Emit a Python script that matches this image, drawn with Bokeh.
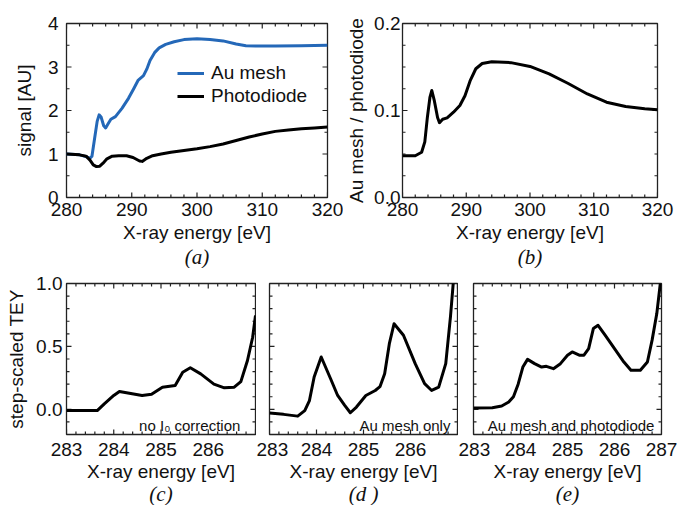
from bokeh.plotting import figure
from bokeh.layouts import row, column
from bokeh.models import (Range1d, FixedTicker, LinearAxis, Title, Label,
                          Legend, LegendItem)
from bokeh.embed import file_html
from bokeh.resources import INLINE

# ---------------- data ----------------
# panel (a)
au_x = [280, 282, 283, 283.6, 283.9, 284.3, 284.7, 285.0, 285.3, 285.7, 286.0,
        286.4, 286.8, 287.5, 288.5, 289.5, 290.3, 291.0, 291.8, 292.3, 292.8,
        293.5, 294.2, 295.2, 296.5, 298, 300, 302, 304, 306, 307.5, 309, 312,
        316, 320]
au_y = [1.0, 0.98, 0.94, 0.90, 0.95, 1.35, 1.75, 1.90, 1.85, 1.65, 1.60,
        1.70, 1.80, 1.86, 2.05, 2.28, 2.50, 2.70, 2.80, 2.95, 3.15,
        3.33, 3.44, 3.52, 3.58, 3.63, 3.65, 3.63, 3.60, 3.53, 3.49, 3.48, 3.48,
        3.49, 3.50]
pd_x = [280, 282, 283, 283.6, 284.1, 284.6, 285.1, 285.6, 286.2, 287, 288,
        289.2, 290.2, 291.2, 291.6, 292.3, 293.2, 294.5, 296, 298, 300, 302,
        304, 306, 308, 310, 312, 314, 316, 318, 320]
pd_y = [1.0, 0.98, 0.95, 0.86, 0.75, 0.71, 0.72, 0.79, 0.89, 0.95, 0.96,
        0.96, 0.92, 0.84, 0.83, 0.90, 0.96, 1.00, 1.04, 1.08, 1.12, 1.17,
        1.23, 1.31, 1.39, 1.46, 1.52, 1.55, 1.58, 1.60, 1.62]

# panel (b)
ratio_x = [280, 282, 283, 283.5, 283.9, 284.3, 284.6, 285.0, 285.5, 285.8,
           286.3, 287, 288, 289, 289.8, 290.6, 291.5, 292.5, 294, 297, 300,
           303, 306, 309, 312, 315, 318, 320]
ratio_y = [0.048, 0.048, 0.052, 0.064, 0.092, 0.115, 0.123, 0.111, 0.092, 0.086,
           0.090, 0.0915, 0.098, 0.1057, 0.117, 0.134, 0.148, 0.154, 0.156, 0.155,
           0.1506, 0.142, 0.131, 0.119, 0.1095, 0.1046, 0.102, 0.101]

# panel (c)
c_x = [283, 283.4, 283.65, 283.8, 284.0, 284.12, 284.3, 284.6, 284.8, 285.03,
       285.3, 285.46, 285.62, 285.84, 286.12, 286.34, 286.55, 286.69, 286.83,
       286.94, 287.0]
c_y = [-0.01, -0.01, -0.01, 0.044, 0.11, 0.142, 0.13, 0.11, 0.12, 0.176,
       0.19, 0.295, 0.33, 0.282, 0.20, 0.171, 0.176, 0.22, 0.388, 0.573, 0.746]

# panel (d)
d_x = [283, 283.3, 283.6, 283.75, 283.85, 283.95, 284.1, 284.3, 284.45, 284.6,
       284.72, 284.85, 285.05, 285.25, 285.35, 285.45, 285.55, 285.65, 285.85,
       286.1, 286.3, 286.45, 286.6, 286.75, 286.85, 286.92]
d_y = [-0.03, -0.04, -0.054, -0.01, 0.07, 0.257, 0.416, 0.243, 0.11, 0.031,
       -0.027, 0.018, 0.11, 0.15, 0.18, 0.283, 0.522, 0.68, 0.589,
       0.363, 0.204, 0.15, 0.177, 0.363, 0.735, 1.05]

# panel (e)
e_x = [283, 283.4, 283.6, 283.75, 283.85, 283.95, 284.05, 284.15, 284.3, 284.45,
       284.55, 284.7, 284.85, 285.0, 285.1, 285.25, 285.35, 285.45, 285.55,
       285.65, 285.8, 286.0, 286.2, 286.35, 286.55, 286.7, 286.8, 286.9, 286.99]
e_y = [0.01, 0.012, 0.026, 0.058, 0.10, 0.20, 0.336, 0.397, 0.363, 0.336,
       0.342, 0.323, 0.363, 0.43, 0.456, 0.43, 0.43, 0.482, 0.642,
       0.668, 0.589, 0.482, 0.376, 0.31, 0.31, 0.376, 0.55, 0.761, 1.05]

top_xticks = [280, 290, 300, 310, 320]
bot_xticks = [283, 284, 285, 286, 287]
a_yticks = [0, 1, 2, 3, 4]
b_yticks = [0.0, 0.1, 0.2]
c_yticks = [0.0, 0.5, 1.0]

captions = ["(a)", "(b)", "(c)", "(d )", "(e)"]
notes = ["no I\u2080 correction", "Au mesh only", "Au mesh and photodiode"]

FONT = "Liberation Sans"
SERIF = "Liberation Serif"
EDGE = "#222222"
BLUE = "#2468b8"
TXT = "#111111"


def minor_list(lo, hi, step, majors):
    n = int(round((hi - lo) / step))
    vals = [round(lo + i * step, 6) for i in range(n + 1)]
    return [v for v in vals if all(abs(v - m) > 1e-9 for m in majors)]


def style_axis(ax, labels, standoff):
    ax.axis_line_color = None
    ax.major_tick_in = 0
    ax.major_tick_out = 0
    ax.minor_tick_in = 0
    ax.minor_tick_out = 0
    ax.major_tick_line_color = None
    ax.minor_tick_line_color = None
    if labels:
        ax.major_label_text_font = FONT
        ax.major_label_text_font_size = "19px"
        ax.major_label_text_color = TXT
        ax.major_label_standoff = standoff
    else:
        ax.major_label_text_color = None
        ax.major_label_text_font_size = "1px"
        ax.major_label_standoff = 0
    ax.axis_label_text_font = FONT
    ax.axis_label_text_font_size = "19px"
    ax.axis_label_text_font_style = "normal"
    ax.axis_label_text_color = TXT


def add_ticks(p, fw, fh, xr, yr, xt, xm, yt, ym):
    dxp = (xr[1] - xr[0]) / fw
    dyp = (yr[1] - yr[0]) / fh
    x0, x1, y0, y1 = [], [], [], []
    for vals, L in ((xt, 5), (xm, 3)):
        for v in vals:
            x0 += [v, v]
            x1 += [v, v]
            y0 += [yr[0], yr[1]]
            y1 += [yr[0] + L * dyp, yr[1] - L * dyp]
    for vals, L in ((yt, 5), (ym, 3)):
        for v in vals:
            y0 += [v, v]
            y1 += [v, v]
            x0 += [xr[0], xr[1]]
            x1 += [xr[0] + L * dxp, xr[1] - L * dxp]
    p.segment(x0, y0, x1, y1, line_color=EDGE, line_width=1.2)


def make_fig(width, height, bl, br, bt, bb, xr, yr, xt, xm, yt, ym,
             xlabel, ylabel, ylabels, ystand, ylab_stand, caption,
             xstand, xlab_stand, cap_stand, xover=None, yover=None):
    p = figure(width=width, height=height, output_backend="svg",
               toolbar_location=None, x_range=Range1d(*xr),
               y_range=Range1d(*yr), x_axis_location=None,
               y_axis_location=None, min_border=0)
    p.min_border_left = bl
    p.min_border_right = br
    p.min_border_top = bt
    p.min_border_bottom = bb
    p.grid.visible = False
    p.outline_line_color = EDGE
    p.outline_line_width = 1.3
    p.background_fill_color = "white"
    p.border_fill_color = "white"

    xtk = FixedTicker(ticks=xt, minor_ticks=[])
    ytk = FixedTicker(ticks=yt, minor_ticks=[])

    bx = LinearAxis(ticker=xtk, axis_label=xlabel)
    style_axis(bx, True, xstand)
    bx.axis_label_standoff = xlab_stand
    if xover:
        bx.major_label_overrides = xover
    p.add_layout(bx, "below")

    ly = LinearAxis(ticker=ytk, axis_label=ylabel)
    style_axis(ly, ylabels, ystand)
    ly.axis_label_standoff = ylab_stand
    if yover:
        ly.major_label_overrides = yover
    p.add_layout(ly, "left")

    add_ticks(p, width - bl - br, height - bt - bb, xr, yr, xt, xm, yt, ym)

    t = Title(text=caption, align="center", text_font=SERIF,
              text_font_style="italic", text_font_size="21px",
              text_color=TXT, standoff=cap_stand)
    p.add_layout(t, "below")
    return p


# ---------------- top row ----------------
fa = make_fig(343, 268, 66, 16, 23, 70, (280, 320), (0, 4),
              top_xticks, minor_list(280, 320, 2, top_xticks),
              a_yticks, minor_list(0, 4, 0.5, a_yticks),
              "X-ray energy [eV]", "signal [AU]", True, 8, 10, captions[0],
              5, 3, -5)
r_au = fa.line(au_x, au_y, line_color=BLUE, line_width=3, line_join="round")
r_pd = fa.line(pd_x, pd_y, line_color="black", line_width=3, line_join="round")
leg = Legend(items=[LegendItem(label="Au mesh", renderers=[r_au]),
                    LegendItem(label="Photodiode", renderers=[r_pd])],
             location=(111, 90), border_line_color=None,
             background_fill_alpha=0, label_text_font=FONT,
             label_text_font_size="19px", label_text_color=TXT,
             glyph_width=27, glyph_height=20, label_height=20,
             label_standoff=7, spacing=1, padding=0, margin=0)
fa.add_layout(leg, "center")

fb = make_fig(334, 268, 59, 20, 23, 71, (280, 320), (0, 0.2),
              top_xticks, minor_list(280, 320, 2, top_xticks),
              b_yticks, minor_list(0, 0.2, 0.025, b_yticks),
              "X-ray energy [eV]", "Au mesh / photodiode", True, 2, 4, captions[1],
              5, 3, -5, yover={0: "0.0", 0.1: "0.1", 0.2: "0.2"})
fb.line(ratio_x, ratio_y, line_color="black", line_width=3, line_join="round")

# ---------------- bottom row ----------------
bx_minor = minor_list(283, 287, 0.2, bot_xticks)
cy_minor = minor_list(-0.2, 1.0, 0.1, c_yticks)
cover = {0: "0.0", 0.5: "0.5", 1: "1.0"}

fc = make_fig(256, 237, 66, 1, 15, 71, (283, 287), (-0.2, 1.0),
              bot_xticks, bx_minor, c_yticks, cy_minor,
              "X-ray energy [eV]", "step-scaled TEY", True, 4, 6, captions[2],
              8, 2, -9, xover={287: ""}, yover=cover)
fc.line(c_x, c_y, line_color="black", line_width=3, line_join="round")

fd = make_fig(202, 237, 13, 1, 15, 71, (283, 287), (-0.2, 1.0),
              bot_xticks, bx_minor, c_yticks, cy_minor,
              "X-ray energy [eV]", None, False, 0, 0, captions[3],
              8, 2, -9, xover={287: ""})
fd.line(d_x, d_y, line_color="black", line_width=3, line_join="round")

fe = make_fig(219, 237, 15, 16, 15, 71, (283, 287), (-0.2, 1.0),
              bot_xticks, bx_minor, c_yticks, cy_minor,
              "X-ray energy [eV]", None, False, 0, 0, captions[4],
              8, 2, -9)
fe.line(e_x, e_y, line_color="black", line_width=3, line_join="round")

for fig, note, xr in ((fc, notes[0], 286.68), (fd, notes[1], 286.85),
                      (fe, notes[2], 286.85)):
    fig.add_layout(Label(x=xr, y=-0.13, text=note, text_align="right",
                         text_baseline="alphabetic", text_font=FONT,
                         text_font_size="15px", text_color=TXT))

layout = column(row(fa, fb), row(fc, fd, fe))
open("out.html", "w").write(file_html(layout, INLINE))
